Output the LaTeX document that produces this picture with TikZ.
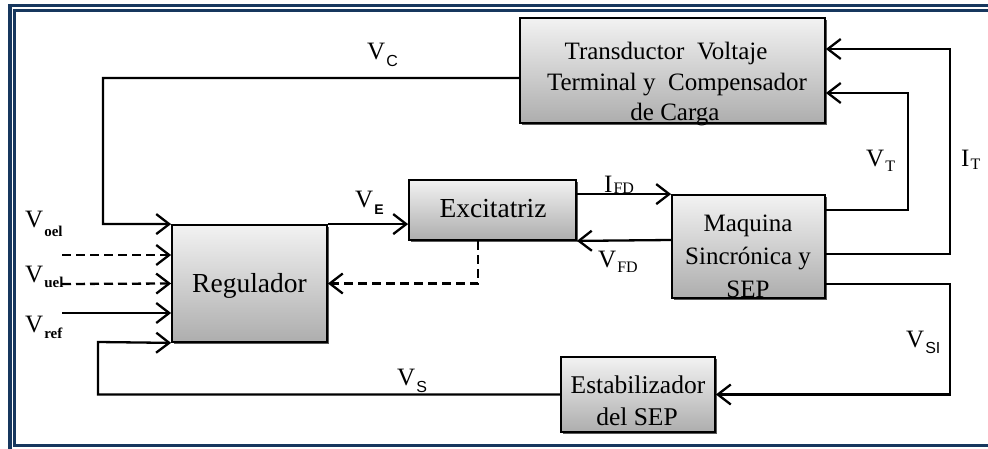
\documentclass[tikz,border=0pt]{standalone}
\usepackage{fontspec}
\setmainfont{Liberation Serif}
\newfontfamily\labsans{Liberation Sans}
\usetikzlibrary{arrows.meta,shadows}

\definecolor{frameblue}{HTML}{17375E}

% signal label: main letter followed by a lowered subscript
\newcommand{\siglab}[3][6pt]{#2\kern1pt\raisebox{-#1}{#3}}
\newcommand{\ssans}[1]{{\labsans\fontsize{16}{16}\selectfont #1}}
\newcommand{\sbold}[1]{{\bfseries\fontsize{15}{15}\selectfont #1}}
\newcommand{\sser}[1]{{\fontsize{16}{16}\selectfont #1}}

\tikzset{
  blockbox/.style={draw=black, line width=1.8pt, rectangle, inner sep=0pt,
    top color=black!5, bottom color=black!32,
    drop shadow={shadow xshift=1.6pt, shadow yshift=-1.6pt, fill=black!65, opacity=1}},
  boxtext/.style={anchor=base, inner sep=0pt},
  siglabel/.style={anchor=base west, inner sep=0pt, font=\fontsize{25}{25}\selectfont},
  wire/.style={line width=2.3pt, line join=miter},
  arr/.style={wire, -{Straight Barb[length=13pt,width=20pt,line width=2.3pt]}},
  dasharr/.style={arr, dash pattern=on 9pt off 5pt},
}

\begin{document}
\begin{tikzpicture}[x=1pt, y=-1pt]
\useasboundingbox (0,0) rectangle (988,449);
\begin{scope}
\clip (0,0) rectangle (988,449);
% double frame
\draw[frameblue, line width=3.8pt] (10,5.5) rectangle (1010,452);
\draw[frameblue, line width=3pt] (14.5,10.5) rectangle (1000,445.5);
\end{scope}

% blocks
\node[blockbox, minimum width=305pt, minimum height=105pt] (trans) at (672.5,70.5) {};
\node[blockbox, minimum width=155pt, minimum height=117pt] (reg) at (249.5,283.5) {};
\node[blockbox, minimum width=167pt, minimum height=60pt] (exc) at (492.5,210) {};
\node[blockbox, minimum width=153pt, minimum height=103pt] (maq) at (748.5,246.5) {};
\node[blockbox, minimum width=154pt, minimum height=75pt] (est) at (638,394.5) {};

% block texts
\begin{scope}[every node/.style={boxtext}]
\node[font=\fontsize{25}{25}\selectfont] (trans1) at (666,60) {Transductor\ \ Voltaje};
\node[font=\fontsize{25}{25}\selectfont] (trans2) at (677,91) {Terminal y\ \ Compensador};
\node[font=\fontsize{25}{25}\selectfont] (trans3) at (675,121) {de Carga};
\node[font=\fontsize{27.5}{27.5}\selectfont] (regt) at (249.5,292) {Regulador};
\node[font=\fontsize{27.5}{27.5}\selectfont] (exct) at (493,218) {Excitatriz};
\node[font=\fontsize{25}{25}\selectfont] (maq1) at (748,232) {Maquina};
\node[font=\fontsize{25}{25}\selectfont] (maq2) at (748,265) {Sincrónica y};
\node[font=\fontsize{25}{25}\selectfont] (maq3) at (748,297) {SEP};
\node[font=\fontsize{25.5}{25.5}\selectfont] (est1) at (638,393) {Estabilizador};
\node[font=\fontsize{25.5}{25.5}\selectfont] (est2) at (637,425) {del SEP};
\end{scope}

% free input ends
\coordinate (oelin) at (62,255);
\coordinate (uelin) at (62,284);
\coordinate (refin) at (62,313);

% connectors
\draw[arr] (trans.west |- 0,78) -| (103,224) -- (reg.north west);
\draw[dasharr] (oelin) -- (reg.west |- 0,255);
\draw[dasharr] (uelin) -- (reg.west);
\draw[arr] (refin) -- (reg.west |- 0,313);
\draw[arr] (est.west) -| (98,342) -- (reg.south west);
\draw[arr] (reg.north east) -- (exc.west |- reg.north east);
\draw[dasharr] (exc.south -| 478,0) |- (reg.east);
\draw[arr] (exc.east |- maq.north) -- (maq.north west);
\draw[arr] (maq.west |- 0,240) -- (exc.south east);
\draw[arr] (maq.east |- 0,210) -| (908,93) -- (trans.east |- 0,93);
\draw[arr] (maq.east |- 0,254) -| (950,49) -- (trans.east |- 0,49);
\draw[arr] (maq.east |- 0,284) -| (950,394.5) -- (est.east);

% signal labels
\node[siglabel] (lvc) at (367,60) {\siglab[7pt]{V}{\ssans{C}}};
\node[siglabel] (lve) at (355,208) {\siglab[7pt]{V}{{\labsans\bfseries\fontsize{14}{14}\selectfont E}}};
\node[siglabel] (lvoel) at (25,228) {\siglab[9pt]{V}{\sbold{oel}}};
\node[siglabel] (lvuel) at (25,283) {\siglab[5pt]{V}{\sbold{uel}}};
\node[siglabel] (lvref) at (25,332) {\siglab[6pt]{V}{\sbold{ref}}};
\node[siglabel] (lifd) at (604,193) {\siglab[1pt]{I}{\sser{FD}}};
\node[siglabel] (lvfd) at (598,268) {\siglab[5pt]{V}{\sser{FD}}};
\node[siglabel] (lvt) at (866,167) {\siglab[5pt]{V}{\sser{T}}};
\node[siglabel] (lit) at (961,167) {\siglab[3pt]{I}{\sser{T}}};
\node[siglabel] (lvsi) at (906,347) {\siglab[6pt]{V}{\ssans{SI}}};
\node[siglabel] (lvs) at (397,385) {\siglab[7pt]{V}{\ssans{S}}};
\end{tikzpicture}
\end{document}
